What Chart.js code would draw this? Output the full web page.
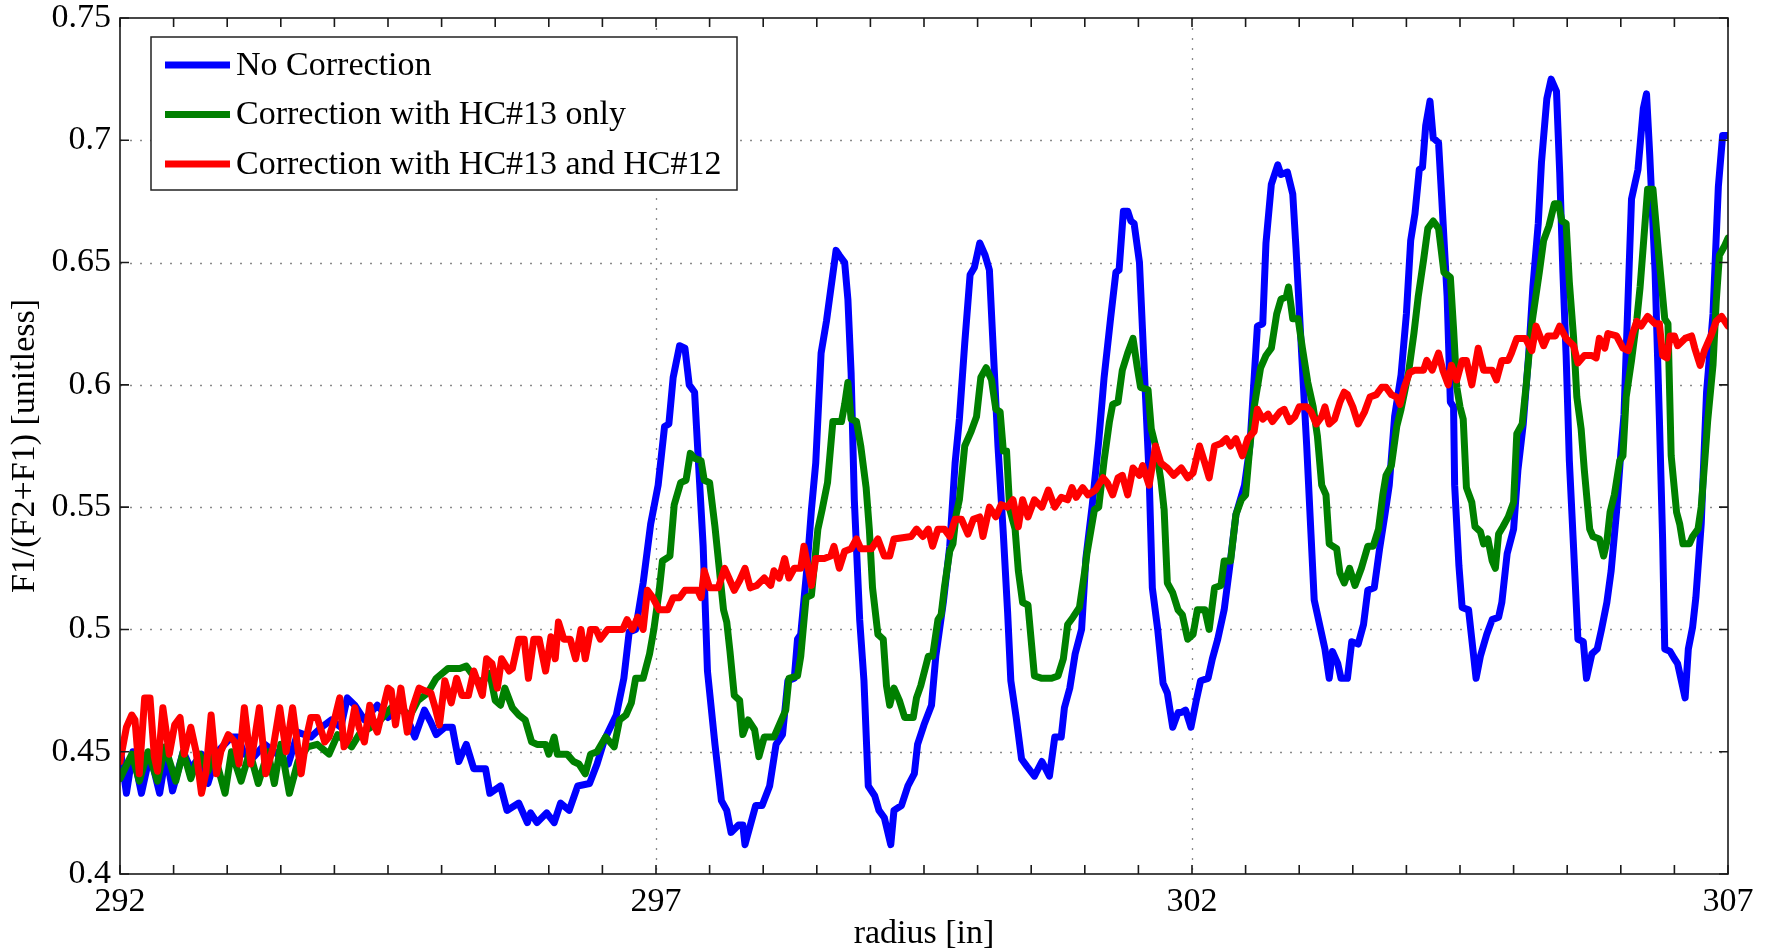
<!DOCTYPE html>
<html>
<head>
<meta charset="utf-8">
<title>F1/(F2+F1) vs radius</title>
<script src="https://cdn.jsdelivr.net/npm/chart.js@4/dist/chart.umd.min.js"></script>
<style>
    body { margin: 0; background: #fff; }
    canvas { display: block; }
</style>
</head>
<body>
<canvas id="ratioChart" width="1765" height="950"></canvas>
<script>
// Données
const seriesNames = ['No Correction', 'Correction with HC#13 only', 'Correction with HC#13 and HC#12'];
const seriesColors = ['#0000ff', '#008000', '#ff0000'];

const xTickLabels = [292, 297, 302, 307];
const yTickLabels = [0.4, 0.45, 0.5, 0.55, 0.6, 0.65, 0.7, 0.75];

// No Correction
const blueRadius = [292.00, 292.06, 292.12, 292.20, 292.28, 292.37, 292.43, 292.49, 292.59, 292.66, 292.76, 292.82, 292.91, 293.04, 293.10, 293.16, 293.25, 293.35, 293.44, 293.57, 293.66, 293.78, 293.88, 293.97, 294.06, 294.12, 294.19, 294.28, 294.40, 294.50, 294.59, 294.65, 294.75, 294.84, 294.90, 294.95, 295.03, 295.10, 295.16, 295.23, 295.30, 295.41, 295.45, 295.55, 295.61, 295.72, 295.80, 295.83, 295.89, 295.98, 296.05, 296.11, 296.19, 296.27, 296.38, 296.45, 296.52, 296.63, 296.70, 296.75, 296.81, 296.88, 296.95, 297.02, 297.08, 297.12, 297.16, 297.22, 297.27, 297.31, 297.36, 297.39, 297.44, 297.48, 297.55, 297.61, 297.66, 297.70, 297.77, 297.81, 297.83, 297.88, 297.93, 297.99, 298.06, 298.12, 298.18, 298.23, 298.29, 298.32, 298.35, 298.41, 298.45, 298.49, 298.54, 298.59, 298.63, 298.68, 298.71, 298.76, 298.79, 298.82, 298.85, 298.90, 298.94, 298.98, 299.04, 299.08, 299.13, 299.19, 299.22, 299.29, 299.35, 299.41, 299.44, 299.50, 299.57, 299.61, 299.68, 299.74, 299.79, 299.83, 299.88, 299.93, 299.97, 300.02, 300.07, 300.11, 300.14, 300.19, 300.24, 300.28, 300.31, 300.36, 300.41, 300.46, 300.53, 300.60, 300.67, 300.72, 300.78, 300.81, 300.86, 300.91, 300.97, 301.01, 301.07, 301.13, 301.18, 301.24, 301.29, 301.32, 301.36, 301.40, 301.43, 301.46, 301.51, 301.55, 301.60, 301.63, 301.68, 301.73, 301.77, 301.82, 301.87, 301.90, 301.94, 301.99, 302.04, 302.08, 302.15, 302.19, 302.24, 302.30, 302.35, 302.41, 302.49, 302.54, 302.58, 302.61, 302.66, 302.69, 302.74, 302.80, 302.83, 302.89, 302.94, 302.97, 303.02, 303.07, 303.11, 303.14, 303.19, 303.24, 303.28, 303.31, 303.36, 303.39, 303.45, 303.49, 303.55, 303.60, 303.64, 303.70, 303.75, 303.80, 303.84, 303.89, 303.95, 304.00, 304.04, 304.08, 304.12, 304.15, 304.18, 304.22, 304.25, 304.30, 304.33, 304.38, 304.41, 304.44, 304.45, 304.49, 304.52, 304.58, 304.61, 304.65, 304.69, 304.75, 304.80, 304.86, 304.89, 304.94, 305.00, 305.04, 305.09, 305.14, 305.18, 305.23, 305.26, 305.31, 305.35, 305.40, 305.43, 305.46, 305.49, 305.52, 305.56, 305.60, 305.65, 305.68, 305.73, 305.78, 305.82, 305.87, 305.91, 305.96, 306.00, 306.03, 306.10, 306.16, 306.21, 306.24, 306.27, 306.32, 306.36, 306.39, 306.41, 306.46, 306.50, 306.53, 306.60, 306.63, 306.67, 306.70, 306.75, 306.80, 306.86, 306.91, 306.95, 307.00];
const blueValues = [0.452, 0.433, 0.450, 0.433, 0.449, 0.433, 0.449, 0.434, 0.450, 0.443, 0.449, 0.437, 0.450, 0.456, 0.456, 0.449, 0.448, 0.453, 0.450, 0.445, 0.458, 0.456, 0.460, 0.463, 0.460, 0.472, 0.469, 0.463, 0.469, 0.464, 0.468, 0.467, 0.456, 0.467, 0.462, 0.457, 0.460, 0.460, 0.446, 0.453, 0.443, 0.443, 0.433, 0.436, 0.426, 0.429, 0.421, 0.425, 0.421, 0.425, 0.421, 0.429, 0.426, 0.436, 0.437, 0.445, 0.455, 0.465, 0.480, 0.499, 0.500, 0.519, 0.543, 0.559, 0.583, 0.584, 0.603, 0.616, 0.615, 0.600, 0.597, 0.573, 0.534, 0.483, 0.453, 0.430, 0.426, 0.417, 0.420, 0.420, 0.412, 0.420, 0.428, 0.428, 0.436, 0.453, 0.457, 0.479, 0.480, 0.496, 0.498, 0.526, 0.549, 0.568, 0.613, 0.626, 0.639, 0.655, 0.653, 0.650, 0.635, 0.605, 0.553, 0.504, 0.479, 0.436, 0.432, 0.426, 0.423, 0.412, 0.426, 0.428, 0.436, 0.441, 0.453, 0.461, 0.469, 0.489, 0.511, 0.534, 0.568, 0.586, 0.617, 0.645, 0.648, 0.658, 0.653, 0.647, 0.620, 0.575, 0.539, 0.507, 0.479, 0.464, 0.447, 0.444, 0.440, 0.446, 0.440, 0.456, 0.456, 0.468, 0.476, 0.490, 0.500, 0.529, 0.551, 0.577, 0.603, 0.627, 0.646, 0.647, 0.671, 0.671, 0.667, 0.666, 0.650, 0.611, 0.563, 0.517, 0.500, 0.478, 0.474, 0.460, 0.466, 0.466, 0.467, 0.460, 0.471, 0.479, 0.480, 0.488, 0.496, 0.508, 0.525, 0.547, 0.559, 0.575, 0.603, 0.624, 0.625, 0.658, 0.682, 0.690, 0.686, 0.687, 0.678, 0.656, 0.615, 0.575, 0.539, 0.512, 0.502, 0.492, 0.480, 0.491, 0.486, 0.480, 0.480, 0.495, 0.494, 0.502, 0.516, 0.517, 0.533, 0.547, 0.559, 0.587, 0.604, 0.629, 0.659, 0.670, 0.688, 0.689, 0.706, 0.716, 0.701, 0.699, 0.676, 0.636, 0.593, 0.591, 0.559, 0.526, 0.509, 0.508, 0.496, 0.480, 0.489, 0.498, 0.504, 0.505, 0.511, 0.531, 0.541, 0.565, 0.584, 0.612, 0.640, 0.666, 0.691, 0.717, 0.725, 0.720, 0.687, 0.646, 0.612, 0.569, 0.533, 0.496, 0.495, 0.480, 0.490, 0.492, 0.500, 0.511, 0.524, 0.548, 0.572, 0.588, 0.676, 0.688, 0.713, 0.719, 0.694, 0.646, 0.586, 0.537, 0.492, 0.491, 0.488, 0.486, 0.472, 0.492, 0.501, 0.513, 0.543, 0.597, 0.629, 0.681, 0.702, 0.702];

// Correction with HC#13 only
const greenRadius = [292.00, 292.11, 292.18, 292.26, 292.35, 292.42, 292.52, 292.59, 292.66, 292.74, 292.82, 292.88, 292.98, 293.04, 293.13, 293.21, 293.29, 293.38, 293.44, 293.50, 293.58, 293.66, 293.75, 293.84, 293.95, 294.03, 294.16, 294.23, 294.34, 294.43, 294.53, 294.62, 294.71, 294.78, 294.87, 294.95, 295.06, 295.17, 295.23, 295.33, 295.39, 295.45, 295.50, 295.55, 295.59, 295.66, 295.72, 295.78, 295.84, 295.89, 295.97, 296.00, 296.05, 296.08, 296.17, 296.23, 296.28, 296.34, 296.39, 296.45, 296.53, 296.61, 296.66, 296.72, 296.77, 296.81, 296.88, 296.94, 296.98, 297.03, 297.06, 297.13, 297.17, 297.23, 297.28, 297.32, 297.36, 297.42, 297.45, 297.50, 297.55, 297.59, 297.63, 297.66, 297.69, 297.73, 297.78, 297.81, 297.86, 297.92, 297.96, 298.01, 298.10, 298.17, 298.21, 298.24, 298.32, 298.35, 298.40, 298.45, 298.51, 298.55, 298.60, 298.65, 298.73, 298.76, 298.79, 298.82, 298.87, 298.91, 298.96, 298.99, 299.02, 299.07, 299.12, 299.15, 299.18, 299.22, 299.27, 299.32, 299.40, 299.43, 299.47, 299.54, 299.58, 299.63, 299.66, 299.69, 299.74, 299.77, 299.80, 299.83, 299.88, 299.94, 299.99, 300.03, 300.08, 300.13, 300.17, 300.21, 300.24, 300.27, 300.30, 300.35, 300.38, 300.42, 300.47, 300.53, 300.60, 300.69, 300.75, 300.80, 300.84, 300.89, 300.95, 301.00, 301.02, 301.09, 301.13, 301.18, 301.23, 301.26, 301.31, 301.35, 301.40, 301.45, 301.49, 301.52, 301.59, 301.62, 301.66, 301.71, 301.74, 301.77, 301.82, 301.87, 301.91, 301.96, 302.01, 302.05, 302.12, 302.16, 302.21, 302.27, 302.30, 302.36, 302.41, 302.46, 302.50, 302.54, 302.58, 302.64, 302.69, 302.74, 302.79, 302.83, 302.88, 302.90, 302.94, 302.99, 303.03, 303.08, 303.13, 303.17, 303.21, 303.25, 303.28, 303.35, 303.38, 303.42, 303.47, 303.52, 303.58, 303.64, 303.69, 303.74, 303.78, 303.81, 303.86, 303.91, 303.95, 304.02, 304.07, 304.11, 304.16, 304.20, 304.25, 304.30, 304.35, 304.41, 304.44, 304.47, 304.50, 304.53, 304.56, 304.61, 304.64, 304.69, 304.72, 304.76, 304.80, 304.83, 304.86, 304.90, 304.95, 305.00, 305.03, 305.08, 305.12, 305.17, 305.24, 305.28, 305.33, 305.38, 305.42, 305.45, 305.49, 305.52, 305.56, 305.59, 305.63, 305.66, 305.71, 305.74, 305.80, 305.84, 305.87, 305.90, 305.94, 305.99, 306.02, 306.05, 306.10, 306.15, 306.18, 306.21, 306.25, 306.30, 306.35, 306.41, 306.44, 306.47, 306.52, 306.55, 306.58, 306.64, 306.67, 306.72, 306.75, 306.78, 306.81, 306.86, 306.89, 306.92, 306.97, 307.00];
const greenValues = [0.439, 0.449, 0.438, 0.450, 0.438, 0.452, 0.438, 0.450, 0.439, 0.449, 0.442, 0.449, 0.433, 0.450, 0.438, 0.450, 0.437, 0.450, 0.437, 0.453, 0.433, 0.446, 0.452, 0.453, 0.449, 0.457, 0.452, 0.457, 0.460, 0.463, 0.468, 0.467, 0.465, 0.471, 0.474, 0.480, 0.484, 0.484, 0.485, 0.479, 0.479, 0.482, 0.471, 0.469, 0.476, 0.468, 0.465, 0.463, 0.454, 0.453, 0.453, 0.449, 0.456, 0.449, 0.449, 0.446, 0.445, 0.441, 0.449, 0.450, 0.456, 0.452, 0.463, 0.465, 0.470, 0.480, 0.480, 0.490, 0.500, 0.516, 0.528, 0.530, 0.551, 0.560, 0.561, 0.572, 0.570, 0.569, 0.561, 0.560, 0.542, 0.525, 0.508, 0.503, 0.491, 0.473, 0.471, 0.457, 0.463, 0.459, 0.448, 0.456, 0.456, 0.463, 0.467, 0.480, 0.481, 0.489, 0.513, 0.514, 0.541, 0.549, 0.560, 0.585, 0.585, 0.592, 0.601, 0.586, 0.585, 0.575, 0.558, 0.541, 0.517, 0.498, 0.496, 0.477, 0.469, 0.476, 0.471, 0.464, 0.464, 0.472, 0.477, 0.489, 0.489, 0.504, 0.506, 0.517, 0.532, 0.535, 0.547, 0.553, 0.575, 0.581, 0.587, 0.603, 0.607, 0.602, 0.590, 0.589, 0.573, 0.573, 0.549, 0.541, 0.524, 0.511, 0.510, 0.481, 0.480, 0.480, 0.481, 0.488, 0.502, 0.505, 0.509, 0.524, 0.531, 0.549, 0.550, 0.569, 0.585, 0.592, 0.593, 0.606, 0.613, 0.619, 0.607, 0.599, 0.598, 0.582, 0.575, 0.561, 0.549, 0.519, 0.515, 0.508, 0.506, 0.496, 0.498, 0.508, 0.508, 0.500, 0.517, 0.518, 0.528, 0.528, 0.547, 0.553, 0.555, 0.575, 0.591, 0.607, 0.612, 0.615, 0.629, 0.635, 0.636, 0.640, 0.627, 0.627, 0.615, 0.601, 0.591, 0.579, 0.559, 0.555, 0.535, 0.533, 0.523, 0.519, 0.525, 0.518, 0.525, 0.534, 0.534, 0.541, 0.555, 0.563, 0.567, 0.583, 0.590, 0.605, 0.621, 0.636, 0.651, 0.664, 0.667, 0.664, 0.646, 0.644, 0.623, 0.599, 0.591, 0.586, 0.558, 0.552, 0.542, 0.540, 0.535, 0.537, 0.528, 0.525, 0.539, 0.542, 0.546, 0.552, 0.580, 0.584, 0.601, 0.625, 0.646, 0.659, 0.665, 0.674, 0.674, 0.667, 0.666, 0.642, 0.619, 0.595, 0.582, 0.565, 0.541, 0.538, 0.537, 0.530, 0.536, 0.548, 0.555, 0.569, 0.571, 0.595, 0.610, 0.627, 0.640, 0.657, 0.680, 0.680, 0.655, 0.627, 0.625, 0.571, 0.548, 0.543, 0.535, 0.535, 0.538, 0.541, 0.550, 0.567, 0.585, 0.608, 0.634, 0.653, 0.657, 0.660];

// Correction with HC#13 and HC#12
const redRadius = [292.00, 292.06, 292.11, 292.14, 292.18, 292.23, 292.28, 292.32, 292.35, 292.40, 292.46, 292.51, 292.56, 292.60, 292.66, 292.71, 292.76, 292.80, 292.85, 292.90, 292.94, 293.01, 293.07, 293.11, 293.16, 293.22, 293.30, 293.36, 293.43, 293.49, 293.55, 293.61, 293.69, 293.74, 293.78, 293.84, 293.91, 293.95, 294.00, 294.05, 294.09, 294.14, 294.19, 294.23, 294.28, 294.33, 294.37, 294.40, 294.50, 294.53, 294.57, 294.62, 294.68, 294.73, 294.79, 294.84, 294.90, 294.94, 294.98, 295.03, 295.09, 295.14, 295.19, 295.25, 295.30, 295.38, 295.42, 295.47, 295.52, 295.56, 295.63, 295.66, 295.72, 295.77, 295.81, 295.86, 295.91, 295.97, 296.02, 296.06, 296.09, 296.14, 296.20, 296.25, 296.30, 296.34, 296.39, 296.44, 296.48, 296.55, 296.69, 296.73, 296.78, 296.83, 296.88, 296.92, 296.97, 297.03, 297.11, 297.16, 297.22, 297.27, 297.39, 297.42, 297.45, 297.50, 297.58, 297.64, 297.69, 297.73, 297.78, 297.83, 297.88, 297.94, 298.01, 298.07, 298.10, 298.15, 298.20, 298.24, 298.29, 298.35, 298.38, 298.45, 298.49, 298.57, 298.63, 298.66, 298.71, 298.76, 298.82, 298.87, 298.91, 299.01, 299.07, 299.13, 299.18, 299.22, 299.38, 299.43, 299.49, 299.54, 299.58, 299.63, 299.69, 299.74, 299.79, 299.85, 299.91, 299.96, 300.02, 300.05, 300.11, 300.17, 300.22, 300.28, 300.33, 300.38, 300.42, 300.47, 300.53, 300.60, 300.66, 300.72, 300.78, 300.84, 300.88, 300.92, 300.98, 301.03, 301.10, 301.17, 301.21, 301.26, 301.31, 301.35, 301.40, 301.45, 301.51, 301.54, 301.60, 301.66, 301.71, 301.77, 301.83, 301.90, 301.96, 302.01, 302.07, 302.12, 302.16, 302.21, 302.27, 302.32, 302.36, 302.41, 302.47, 302.52, 302.58, 302.61, 302.66, 302.71, 302.75, 302.82, 302.86, 302.91, 302.96, 303.00, 303.07, 303.11, 303.16, 303.21, 303.24, 303.28, 303.33, 303.38, 303.42, 303.45, 303.50, 303.55, 303.61, 303.66, 303.72, 303.77, 303.81, 303.86, 303.91, 303.94, 303.98, 304.03, 304.08, 304.16, 304.19, 304.24, 304.30, 304.34, 304.39, 304.42, 304.47, 304.52, 304.56, 304.61, 304.67, 304.72, 304.80, 304.84, 304.89, 304.95, 304.98, 305.03, 305.11, 305.17, 305.21, 305.28, 305.32, 305.39, 305.43, 305.49, 305.56, 305.60, 305.66, 305.73, 305.77, 305.80, 305.85, 305.88, 305.96, 306.02, 306.07, 306.11, 306.15, 306.19, 306.25, 306.32, 306.36, 306.39, 306.43, 306.46, 306.50, 306.53, 306.60, 306.66, 306.69, 306.74, 306.78, 306.84, 306.89, 306.94, 307.00];
const redValues = [0.446, 0.460, 0.465, 0.463, 0.441, 0.472, 0.472, 0.448, 0.442, 0.468, 0.449, 0.461, 0.464, 0.449, 0.460, 0.450, 0.433, 0.441, 0.465, 0.441, 0.450, 0.457, 0.454, 0.445, 0.468, 0.445, 0.468, 0.441, 0.452, 0.468, 0.450, 0.468, 0.441, 0.456, 0.464, 0.464, 0.454, 0.456, 0.463, 0.472, 0.452, 0.456, 0.468, 0.460, 0.454, 0.469, 0.461, 0.458, 0.476, 0.475, 0.461, 0.476, 0.458, 0.468, 0.476, 0.475, 0.474, 0.468, 0.461, 0.479, 0.470, 0.480, 0.473, 0.473, 0.483, 0.473, 0.488, 0.486, 0.476, 0.488, 0.483, 0.484, 0.496, 0.496, 0.480, 0.496, 0.496, 0.483, 0.497, 0.488, 0.503, 0.496, 0.496, 0.488, 0.500, 0.488, 0.500, 0.500, 0.496, 0.500, 0.500, 0.504, 0.500, 0.505, 0.500, 0.516, 0.513, 0.508, 0.508, 0.513, 0.513, 0.516, 0.516, 0.513, 0.524, 0.517, 0.517, 0.525, 0.520, 0.516, 0.520, 0.525, 0.517, 0.518, 0.521, 0.518, 0.524, 0.521, 0.529, 0.521, 0.525, 0.525, 0.534, 0.518, 0.529, 0.529, 0.530, 0.534, 0.525, 0.532, 0.533, 0.537, 0.533, 0.533, 0.537, 0.530, 0.530, 0.537, 0.538, 0.541, 0.538, 0.541, 0.534, 0.541, 0.541, 0.538, 0.545, 0.545, 0.539, 0.545, 0.546, 0.538, 0.550, 0.546, 0.551, 0.550, 0.553, 0.542, 0.553, 0.546, 0.553, 0.550, 0.557, 0.550, 0.554, 0.553, 0.558, 0.554, 0.558, 0.555, 0.557, 0.562, 0.560, 0.555, 0.562, 0.563, 0.555, 0.566, 0.563, 0.567, 0.559, 0.575, 0.568, 0.566, 0.563, 0.566, 0.562, 0.564, 0.575, 0.568, 0.562, 0.575, 0.576, 0.578, 0.575, 0.578, 0.571, 0.578, 0.581, 0.590, 0.586, 0.588, 0.585, 0.589, 0.590, 0.585, 0.587, 0.591, 0.591, 0.589, 0.584, 0.587, 0.591, 0.584, 0.586, 0.593, 0.597, 0.596, 0.591, 0.584, 0.589, 0.595, 0.596, 0.599, 0.599, 0.596, 0.595, 0.592, 0.599, 0.605, 0.606, 0.606, 0.610, 0.606, 0.613, 0.606, 0.600, 0.608, 0.602, 0.610, 0.610, 0.600, 0.615, 0.606, 0.606, 0.602, 0.610, 0.610, 0.613, 0.619, 0.619, 0.614, 0.624, 0.616, 0.620, 0.620, 0.624, 0.619, 0.616, 0.609, 0.612, 0.612, 0.611, 0.619, 0.615, 0.621, 0.620, 0.615, 0.614, 0.621, 0.626, 0.624, 0.628, 0.625, 0.625, 0.612, 0.611, 0.620, 0.620, 0.616, 0.619, 0.620, 0.615, 0.608, 0.614, 0.620, 0.626, 0.628, 0.624];

const serifFont = "'Liberation Serif', 'Times New Roman', serif";

function toPoints(xs, ys) {
    return xs.map((x, i) => ({ x: x, y: ys[i] }));
}

// Cadre, grille pointillée, graduations intérieures et légende (style MATLAB)
const matlabFrame = {
    id: 'matlabFrame',
    beforeDatasetsDraw(chart) {
        const { ctx, chartArea: a, scales: { x, y } } = chart;
        ctx.save();
        ctx.strokeStyle = '#8a8a8a';
        ctx.lineWidth = 1.3;
        ctx.setLineDash([2, 8]);
        yTickLabels.slice(1, -1).forEach(v => {
            const py = Math.round(y.getPixelForValue(v)) + 0.5;
            ctx.beginPath();
            ctx.moveTo(a.left, py);
            ctx.lineTo(a.right, py);
            ctx.stroke();
        });
        xTickLabels.slice(1, -1).forEach(v => {
            const px = Math.round(x.getPixelForValue(v)) + 0.5;
            ctx.beginPath();
            ctx.moveTo(px, a.top);
            ctx.lineTo(px, a.bottom);
            ctx.stroke();
        });
        ctx.restore();
    },
    afterDatasetsDraw(chart) {
        const { ctx, chartArea: a, scales: { x, y } } = chart;
        ctx.save();
        ctx.strokeStyle = '#1a1a1a';
        ctx.lineWidth = 1.6;
        ctx.setLineDash([]);
        ctx.strokeRect(a.left, a.top, a.right - a.left, a.bottom - a.top);

        const tick = 9;
        ctx.beginPath();
        x.ticks.forEach(t => {
            const px = x.getPixelForValue(t.value);
            ctx.moveTo(px, a.bottom);
            ctx.lineTo(px, a.bottom - tick);
            ctx.moveTo(px, a.top);
            ctx.lineTo(px, a.top + tick);
        });
        yTickLabels.forEach(v => {
            const py = y.getPixelForValue(v);
            ctx.moveTo(a.left, py);
            ctx.lineTo(a.left + tick, py);
            ctx.moveTo(a.right, py);
            ctx.lineTo(a.right - tick, py);
        });
        ctx.stroke();

        // Légende
        const box = { left: 151, top: 37, width: 586, height: 153 };
        ctx.fillStyle = '#ffffff';
        ctx.fillRect(box.left, box.top, box.width, box.height);
        ctx.strokeStyle = '#222';
        ctx.lineWidth = 1.5;
        ctx.strokeRect(box.left, box.top, box.width, box.height);
        ctx.font = '34px ' + serifFont;
        ctx.textBaseline = 'middle';
        ctx.textAlign = 'left';
        seriesNames.forEach((name, i) => {
            const ly = box.top + 28 + i * 49.5;
            ctx.strokeStyle = seriesColors[i];
            ctx.lineWidth = 7;
            ctx.beginPath();
            ctx.moveTo(box.left + 14, ly);
            ctx.lineTo(box.left + 79, ly);
            ctx.stroke();
            ctx.fillStyle = '#000';
            ctx.fillText(name, box.left + 85, ly + 1);
        });
        ctx.restore();
    }
};

function fixPadding(scale) {
    scale.paddingTop = 0;
    scale.paddingBottom = 0;
    scale.paddingLeft = 0;
    scale.paddingRight = 0;
}

const ctx = document.getElementById('ratioChart').getContext('2d');
new Chart(ctx, {
    type: 'scatter',
    data: {
        datasets: [
            { label: seriesNames[0], data: toPoints(blueRadius, blueValues), borderColor: seriesColors[0], order: 3 },
            { label: seriesNames[1], data: toPoints(greenRadius, greenValues), borderColor: seriesColors[1], order: 2 },
            { label: seriesNames[2], data: toPoints(redRadius, redValues), borderColor: seriesColors[2], order: 1 }
        ].map(ds => Object.assign(ds, {
            showLine: true,
            borderWidth: 7,
            pointRadius: 0,
            tension: 0,
            borderJoinStyle: 'round',
            borderCapStyle: 'round'
        }))
    },
    options: {
        responsive: false,
        animation: false,
        devicePixelRatio: 1,
        layout: { padding: { top: 18, right: 37, left: 0, bottom: 0 } },
        plugins: {
            legend: { display: false },
            tooltip: { enabled: false }
        },
        scales: {
            x: {
                type: 'linear',
                min: 292,
                max: 307,
                grid: { display: false, drawTicks: false },
                border: { display: false },
                ticks: {
                    stepSize: 0.5,
                    autoSkip: false,
                    maxRotation: 0,
                    padding: 8,
                    color: '#000',
                    font: { family: serifFont, size: 34 },
                    callback: v => xTickLabels.includes(v) ? String(v) : ''
                },
                title: {
                    display: true,
                    text: 'radius [in]',
                    color: '#000',
                    font: { family: serifFont, size: 34, lineHeight: 1 },
                    padding: { top: 0, bottom: -1 }
                },
                afterFit: scale => { scale.height = 76; fixPadding(scale); }
            },
            y: {
                min: 0.4,
                max: 0.75,
                grid: { display: false, drawTicks: false },
                border: { display: false },
                ticks: {
                    stepSize: 0.05,
                    padding: 9,
                    color: '#000',
                    font: { family: serifFont, size: 34 },
                    callback: v => String(+v.toFixed(2))
                },
                title: {
                    display: true,
                    text: 'F1/(F2+F1) [unitless]',
                    color: '#000',
                    font: { family: serifFont, size: 34, lineHeight: 1 },
                    padding: { top: 8, bottom: 0 }
                },
                afterFit: scale => { scale.width = 120; fixPadding(scale); }
            }
        }
    },
    plugins: [matlabFrame]
});
</script>
</body>
</html>
